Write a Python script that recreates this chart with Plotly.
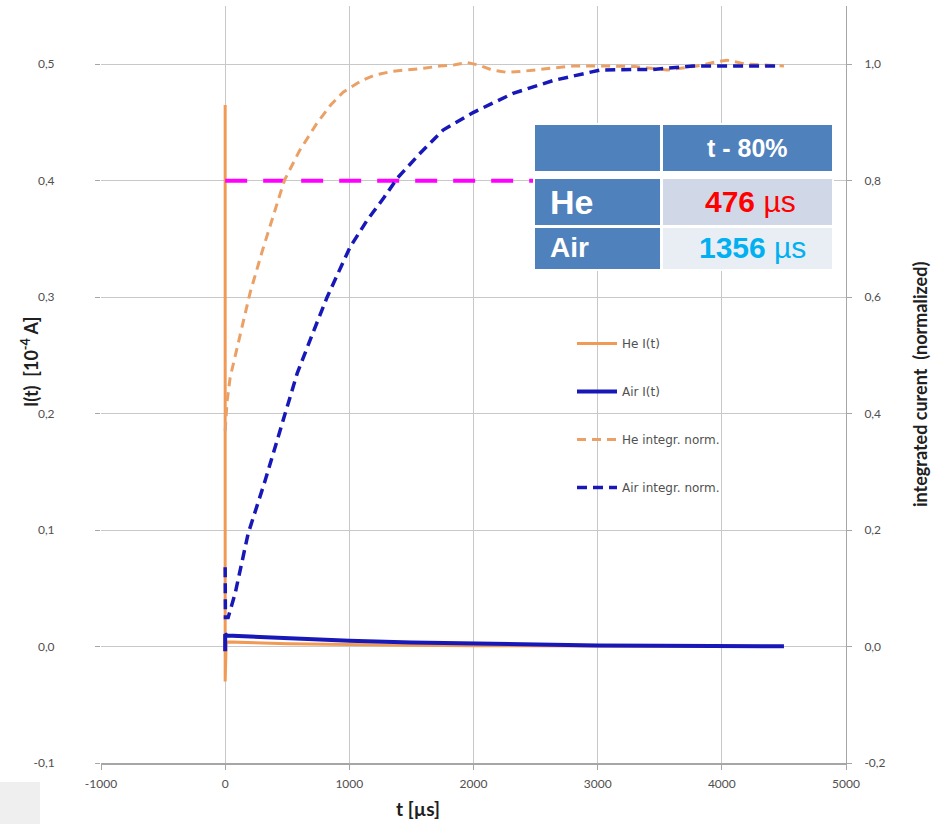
import plotly.graph_objects as go

# ---------------- data ----------------
# He current I(t)  [1e-4 A]
t_he_i = [0, 0, 0, 8, 100, 300, 500, 800, 1000, 1500, 2000, 3000, 4000, 4500]
he_i = [0.0, 0.465, -0.03, 0.004, 0.0035, 0.003, 0.0025, 0.002, 0.0015, 0.001, 0.0007, 0.0004, 0.0002, 0.0001]

# Air current I(t)  [1e-4 A]
t_air_i = [0, 0, 15, 200, 500, 800, 1000, 1500, 2000, 2500, 3000, 3500, 4000, 4500]
air_i = [-0.004, 0.0105, 0.0095, 0.0085, 0.0075, 0.006, 0.005, 0.0035, 0.0024, 0.0015, 0.0009, 0.0006, 0.0003, 0.0002]

# He integrated current (normalized)
t_he_int = [0, 15, 40, 100, 200, 300, 400, 476, 600, 740, 850, 950, 1100, 1200, 1350, 1465,
            1600, 1730, 1850, 1950, 2050, 2150, 2270, 2400, 2536, 2700, 2800, 3076, 3300,
            3560, 3800, 3950, 4040, 4200, 4350, 4500]
he_int = [0.37, 0.42, 0.462, 0.515, 0.607, 0.68, 0.75, 0.80, 0.852, 0.899, 0.93, 0.952, 0.972,
          0.981, 0.988, 0.990, 0.993, 0.997, 0.999, 1.003, 0.998, 0.990, 0.986, 0.988, 0.991,
          0.995, 0.997, 0.997, 0.996, 0.990, 0.997, 1.004, 1.007, 1.0, 0.998, 0.997]

# Air integrated current (normalized)
t_air_int = [0, 2, 24, 80, 185, 322, 483, 580, 700, 821, 1006, 1143, 1279, 1385, 1570, 1755,
             1997, 2319, 2641, 3019, 3285, 3446, 3768, 4090, 4364, 4470]
air_int = [0.136, 0.05, 0.05, 0.091, 0.194, 0.285, 0.40, 0.469, 0.535, 0.60, 0.686, 0.732,
           0.771, 0.804, 0.847, 0.887, 0.917, 0.950, 0.972, 0.990, 0.991, 0.991, 0.997, 0.997,
           0.996, 0.997]

# 80 % threshold line
thr_t = [0, 2500]
thr_level = 0.8

# table content
tbl_header = "t - 80%"
tbl_rows = ["He", "Air"]
tbl_values = ["476", "1356"]
tbl_unit = "µs"

# ticks
x_ticks = [-1000, 0, 1000, 2000, 3000, 4000, 5000]
x_tick_labels = ["-1000", "0", "1000", "2000", "3000", "4000", "5000"]
y_ticks = [-0.1, 0.0, 0.1, 0.2, 0.3, 0.4, 0.5]
y_tick_labels = ["-0,1", "0,0", "0,1", "0,2", "0,3", "0,4", "0,5"]
y2_ticks = [-0.2, 0.0, 0.2, 0.4, 0.6, 0.8, 1.0]
y2_tick_labels = ["-0,2", "0,0", "0,2", "0,4", "0,6", "0,8", "1,0"]

# ---------------- geometry helpers ----------------
W, H = 937, 824
ML, MR, MT, MB = 101, 91, 6, 61
PW, PH = W - ML - MR, H - MT - MB


def px(x):
    return (x - ML) / PW


def py(y):
    return (H - MB - y) / PH


ORANGE = "#F09A55"
ORANGE_D = "#EBA066"
BLUE = "#1818B8"
GRID = "#C8C8C8"
TXT = "#505050"

fig = go.Figure()

fig.add_trace(go.Scatter(x=t_he_i, y=he_i, mode="lines", name="He I(t)",
                         line=dict(color=ORANGE, width=3), legendgroup="a"))
fig.add_trace(go.Scatter(x=t_air_i, y=air_i, mode="lines", name="Air I(t)",
                         line=dict(color=BLUE, width=4), legendgroup="b"))
fig.add_trace(go.Scatter(x=thr_t, y=[thr_level] * len(thr_t), mode="lines", yaxis="y2",
                         line=dict(color="#FF00FF", width=4, dash="22px,16px"),
                         showlegend=False, hoverinfo="skip"))
fig.add_trace(go.Scatter(x=t_he_int, y=he_int, mode="lines", name="He integr. norm.", yaxis="y2",
                         line=dict(color=ORANGE_D, width=3, dash="9px,6px"), legendgroup="c"))
fig.add_trace(go.Scatter(x=t_air_int, y=air_int, mode="lines", name="Air integr. norm.", yaxis="y2",
                         line=dict(color=BLUE, width=3.5, dash="10px,6px"), legendgroup="d"))

shapes = []
# white area behind the legend (hides gridlines)
shapes.append(dict(type="rect", xref="paper", yref="paper", x0=px(546), x1=px(776), y0=py(515), y1=py(302),
                   fillcolor="white", line=dict(width=0), layer="between"))
# table background and cells
shapes.append(dict(type="rect", xref="paper", yref="paper", x0=px(533), x1=px(834), y0=py(271), y1=py(123),
                   fillcolor="white", line=dict(width=0), layer="above"))
cells = [
    (535, 660, 125, 171, "#4F81BD"), (663, 832, 125, 171, "#4F81BD"),
    (535, 660, 179, 225, "#4F81BD"), (663, 832, 179, 225, "#D0D8E8"),
    (535, 660, 228, 269, "#4F81BD"), (663, 832, 228, 269, "#E9EDF4"),
]
for x0, x1, y0, y1, c in cells:
    shapes.append(dict(type="rect", xref="paper", yref="paper", x0=px(x0), x1=px(x1), y0=py(y1), y1=py(y0),
                       fillcolor=c, line=dict(width=0), layer="above"))
# small gray box bottom-left
shapes.append(dict(type="rect", xref="paper", yref="paper", x0=px(0), x1=px(40), y0=py(824), y1=py(782),
                   fillcolor="#EFEFEF", line=dict(width=0), layer="below"))

TF = "Liberation Sans, Arial, sans-serif"


def ann(x, y, text, size, color, family=TF, xanchor="center", angle=0):
    return dict(x=px(x), y=py(y), xref="paper", yref="paper", text=text, showarrow=False,
                xanchor=xanchor, yanchor="middle", textangle=angle,
                font=dict(family=family, size=size, color=color))


annotations = [
    ann(747, 148, "<b>%s</b>" % tbl_header, 25, "white"),
    ann(548, 202, "<b>%s</b>" % tbl_rows[0], 34, "white", xanchor="left"),
    ann(548, 248, "<b>%s</b>" % tbl_rows[1], 28, "white", xanchor="left"),
    ann(750, 201, "<b>%s</b> %s" % (tbl_values[0], tbl_unit), 30, "#FF0000"),
    ann(752, 248, "<b>%s</b> %s" % (tbl_values[1], tbl_unit), 30, "#00B0F0"),
    # axis titles
    ann(30, 362, "<b>I(t)  [10<sup>-4</sup> A]</b>", 18, "#202020", family="Lato", angle=-90),
    ann(920, 385, "<b>integrated curent  (normalized)</b>", 18, "#202020", family="Lato", angle=-90),
    ann(418, 808, "<b>t [µs]</b>", 19, "#202020", family="Lato"),
]

fig.update_layout(
    width=W, height=H,
    margin=dict(l=ML, r=MR, t=MT, b=MB, autoexpand=False),
    paper_bgcolor="white", plot_bgcolor="white",
    font=dict(family="Lato", size=12, color=TXT),
    showlegend=True,
    legend=dict(x=px(572), y=py(329), xanchor="left", yanchor="top", bgcolor="rgba(255,255,255,0)",
                traceorder="grouped", tracegroupgap=29,
                font=dict(family="DejaVu Sans", size=12, color=TXT),
                itemwidth=40),
    xaxis=dict(range=[-1000, 5000], tickvals=x_ticks, ticktext=x_tick_labels, showgrid=True, gridcolor=GRID,
               gridwidth=1, zeroline=False, showline=True, linecolor="#A6A6A6", linewidth=2,
               ticks="outside", ticklen=5, tickcolor="#A6A6A6", ticklabelstandoff=4,
               tickfont=dict(size=12, color=TXT)),
    yaxis=dict(range=[-0.1, 0.55], tickvals=y_ticks, ticktext=y_tick_labels, showgrid=True, gridcolor=GRID,
               gridwidth=1, zeroline=False, showline=False, ticks="outside", ticklen=5, tickcolor="#A6A6A6",
               ticklabelstandoff=38, tickfont=dict(size=12, color=TXT)),
    yaxis2=dict(range=[-0.2, 1.1], tickvals=y2_ticks, ticktext=y2_tick_labels, overlaying="y", side="right",
                showgrid=False, zeroline=False, showline=True, linecolor="#A6A6A6", linewidth=1,
                ticks="outside", ticklen=5, tickcolor="#A6A6A6", ticklabelstandoff=10,
                tickfont=dict(size=12, color=TXT)),
    shapes=shapes,
    annotations=annotations,
)

fig.write_html("out.html", config={"displayModeBar": False},
               post_script="document.body.style.margin='0px';")
